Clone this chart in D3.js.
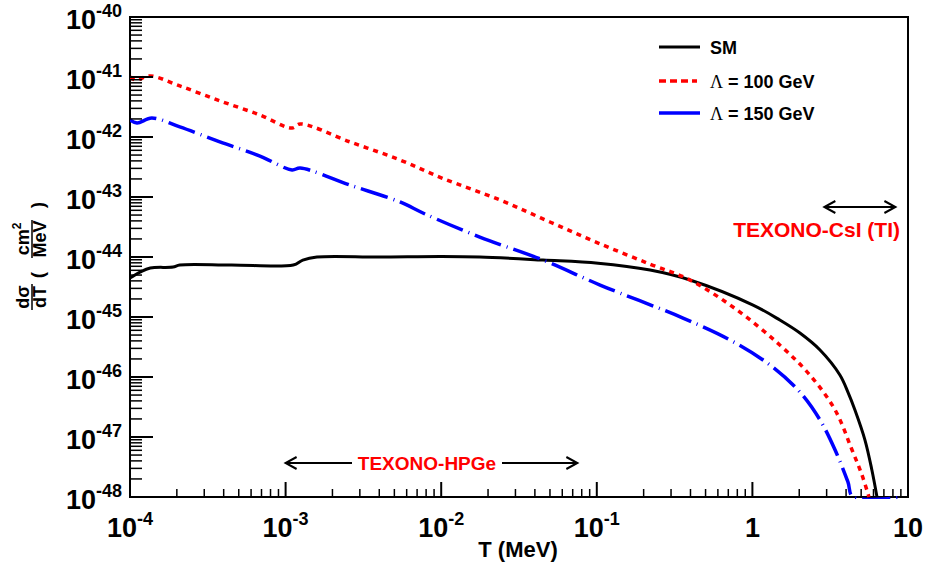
<!DOCTYPE html>
<html><head><meta charset="utf-8">
<script src="https://cdn.jsdelivr.net/npm/d3@7/dist/d3.min.js"></script>
<style>
html,body{margin:0;padding:0;background:#fff;}
svg text{font-family:"Liberation Sans",Arial,Helvetica,sans-serif;font-weight:bold;}
</style></head>
<body><svg id="c" width="951" height="568"></svg>
<script>
// ---- data ----
const smT     = [1e-4,1.16e-4,1.35e-4,1.89e-4,2.09e-4,4.5e-4,1.12e-3,1.29e-3,1.59e-3,4.0e-3,1.01e-2,1.77e-2,4.51e-2,0.102,0.22,0.397,1.01,1.50,2.02,2.72,3.65,4.11,4.56,5.29,5.86,6.32];
const smSigma = [4.47e-45,5.6e-45,6.56e-45,6.8e-45,7.36e-45,7.36e-45,7.36e-45,8.9e-45,1.0e-44,1.0e-44,1.02e-44,1.0e-44,8.9e-45,7.9e-45,6.07e-45,4.14e-45,1.58e-45,8.9e-46,5.4e-46,2.82e-46,1.08e-46,5.6e-47,2.82e-47,8.9e-48,2.82e-48,1.0e-48];

const l100T     = [1e-4,1.094e-4,1.346e-4,2.09e-4,3.78e-4,6.84e-4,1.10e-3,1.24e-3,2.59e-3,5.43e-3,1.01e-2,2.39e-2,5.0e-2,0.102,0.22,0.397,0.796,1.50,2.34,3.40,4.37,5.06,5.61];
const l100Sigma = [1.0e-41,8.9e-42,1.04e-41,7.1e-42,4.0e-42,2.33e-42,1.41e-42,1.65e-42,8.3e-43,4.14e-43,2.07e-43,8.9e-44,3.83e-44,1.71e-44,7.6e-45,4.14e-45,1.31e-45,3.41e-46,1.08e-46,2.82e-47,6.07e-48,2.33e-48,1.0e-48];

const l150T     = [1e-4,1.11e-4,1.38e-4,2.09e-4,3.78e-4,6.84e-4,1.10e-3,1.24e-3,2.59e-3,5.43e-3,7.87e-3,1.77e-2,4.51e-2,0.105,0.358,0.718,1.30,2.02,2.72,3.40,4.11,4.43,9.3];
const l150Sigma = [1.92e-42,1.71e-42,2.07e-42,1.47e-42,8.3e-43,4.82e-43,2.82e-43,3.04e-43,1.58e-43,8.26e-44,5.21e-44,2.15e-44,8.9e-45,3.41e-45,9.6e-46,4.14e-46,1.58e-46,5.6e-47,1.92e-47,6.07e-48,1.78e-48,1.0e-48,1.0e-48];

const xTickExp = [-4,-3,-2,-1,0,1];
const yTickExp = [-40,-41,-42,-43,-44,-45,-46,-47,-48];
const legendLabels = ["SM","\u039B = 100 GeV","\u039B = 150 GeV"];
const hpgeRange = [1e-3, 0.075];
const csiRange = [2.9, 8.3];

// ---- layout ----
const svg = d3.select("#c");
const L=130, R=908, T0=17, B=497;
const x = d3.scaleLog().domain([1e-4,10]).range([L,R]);
const y = d3.scaleLog().domain([1e-48,1e-40]).range([B,T0]);

svg.append("defs").append("clipPath").attr("id","clip")
  .append("rect").attr("x",L).attr("y",T0-2).attr("width",R-L).attr("height",B-T0+4);

// frame
svg.append("rect").attr("x",L).attr("y",T0).attr("width",R-L).attr("height",B-T0)
  .attr("fill","none").attr("stroke","#000").attr("stroke-width",2);

const series = [
  {T:smT, S:smSigma, color:"#000", w:3, dash:null},
  {T:l100T, S:l100Sigma, color:"#ff0000", w:3.5, dash:"5,5"},
  {T:l150T, S:l150Sigma, color:"#0000ff", w:3.5, dash:"28,6,1,6"}
];
const line = d3.line().x(d=>x(d[0])).y(d=>y(d[1])).curve(d3.curveCatmullRom.alpha(0.5));
const g = svg.append("g").attr("clip-path","url(#clip)");
series.forEach(s=>{
  const pts = s.T.map((t,i)=>[t,s.S[i]]);
  g.append("path").attr("d",line(pts)).attr("fill","none")
   .attr("stroke",s.color).attr("stroke-width",s.w)
   .attr("stroke-dasharray",s.dash);
});

// y ticks
const yMinor=[];
for(let e=-48;e<-40;e++) for(let k=2;k<=9;k++) yMinor.push(k*Math.pow(10,e));
svg.append("g").selectAll("line").data(yMinor).join("line")
  .attr("x1",L).attr("x2",L+12).attr("y1",d=>y(d)).attr("y2",d=>y(d))
  .attr("stroke","#000").attr("stroke-width",1.5);
svg.append("g").selectAll("line").data(yTickExp).join("line")
  .attr("x1",L).attr("x2",L+23).attr("y1",d=>y(Math.pow(10,d))).attr("y2",d=>y(Math.pow(10,d)))
  .attr("stroke","#000").attr("stroke-width",2);
yTickExp.forEach(e=>{
  const yy = y(Math.pow(10,e));
  const t = svg.append("text").attr("x",122).attr("y",yy+12).attr("text-anchor","end")
    .attr("font-size",27);
  t.append("tspan").text("10");
  t.append("tspan").attr("font-size",18).attr("dy",-12).text(String(e));
});

// x ticks
const xMinor=[];
for(let e=-4;e<1;e++) for(let k=2;k<=9;k++) xMinor.push(k*Math.pow(10,e));
svg.append("g").selectAll("line").data(xMinor).join("line")
  .attr("x1",d=>x(d)).attr("x2",d=>x(d)).attr("y1",B).attr("y2",B-8)
  .attr("stroke","#000").attr("stroke-width",1.5);
svg.append("g").selectAll("line").data(xTickExp).join("line")
  .attr("x1",d=>x(Math.pow(10,d))).attr("x2",d=>x(Math.pow(10,d))).attr("y1",B).attr("y2",B-15)
  .attr("stroke","#000").attr("stroke-width",2);
xTickExp.forEach(e=>{
  const xx = x(Math.pow(10,e));
  const t = svg.append("text").attr("x",xx).attr("y",537).attr("text-anchor","middle")
    .attr("font-size",27);
  if(e===0){ t.text("1"); }
  else if(e===1){ t.text("10"); }
  else {
    t.append("tspan").text("10");
    t.append("tspan").attr("font-size",18).attr("dy",-12).text(String(e));
  }
});

// x axis title
svg.append("text").attr("x",518).attr("y",557).attr("text-anchor","middle")
  .attr("font-size",22).text("T (MeV)");

// y axis title (rotated fractions)
const yt = svg.append("g").attr("transform","translate(32,255) rotate(-90)");
function frac(g,cx,num,den,w,sup){
  const tn = g.append("text").attr("x",cx).attr("y",-3).attr("text-anchor","middle").attr("font-size",18);
  tn.append("tspan").text(num);
  if(sup){ tn.append("tspan").attr("font-size",12).attr("dy",-8).text(sup); }
  g.append("line").attr("x1",cx-w/2).attr("x2",cx+w/2).attr("y1",0).attr("y2",0)
   .attr("stroke","#000").attr("stroke-width",1.5);
  g.append("text").attr("x",cx).attr("y",14).attr("text-anchor","middle").attr("font-size",18).text(den);
}
frac(yt,-42,"d\u03C3","dT",26);
frac(yt,16,"cm","MeV",38,"2");
yt.append("text").attr("x",-20).attr("y",12).attr("text-anchor","middle").attr("font-size",19).text("(");
yt.append("text").attr("x",50).attr("y",12).attr("text-anchor","middle").attr("font-size",19).text(")");

// legend
const legY=[47,81,113];
legendLabels.forEach((lab,i)=>{
  const s=series[i];
  svg.append("line").attr("x1",659).attr("x2",i===1?697:700).attr("y1",legY[i]).attr("y2",legY[i])
    .attr("stroke",s.color).attr("stroke-width",s.w)
    .attr("stroke-dasharray",i===1?"7,4":null);
  const t = svg.append("text").attr("x",710).attr("y",legY[i]+7).attr("font-size",18);
  if(i===0) t.text(lab);
  else {
    t.append("tspan").attr("font-family","'Liberation Serif','Times New Roman',serif").attr("font-weight","normal").text(lab[0]);
    t.append("tspan").text(lab.slice(1));
  }
});

// annotations
function arrowHead(xx,yy,dir){
  svg.append("path").attr("d",`M${xx-dir*11},${yy-6} L${xx},${yy} L${xx-dir*11},${yy+6}`)
    .attr("fill","none").attr("stroke","#000").attr("stroke-width",2);
}
const hy=463, hx1=x(hpgeRange[0]), hx2=x(hpgeRange[1]);
svg.append("line").attr("x1",hx1).attr("x2",352).attr("y1",hy).attr("y2",hy).attr("stroke","#000").attr("stroke-width",2);
svg.append("line").attr("x1",502).attr("x2",hx2).attr("y1",hy).attr("y2",hy).attr("stroke","#000").attr("stroke-width",2);
arrowHead(hx1,hy,-1); arrowHead(hx2,hy,1);
svg.append("text").attr("x",427).attr("y",hy+7).attr("text-anchor","middle").attr("font-size",19)
  .attr("fill","#ff0000").text("TEXONO-HPGe");

const cy=207, cx1=x(csiRange[0]), cx2=x(csiRange[1]);
svg.append("line").attr("x1",cx1).attr("x2",cx2).attr("y1",cy).attr("y2",cy).attr("stroke","#000").attr("stroke-width",2);
arrowHead(cx1,cy,-1); arrowHead(cx2,cy,1);
svg.append("text").attr("x",900).attr("y",237).attr("text-anchor","end").attr("font-size",21)
  .attr("fill","#ff0000").text("TEXONO-CsI (TI)");
</script></body></html>
